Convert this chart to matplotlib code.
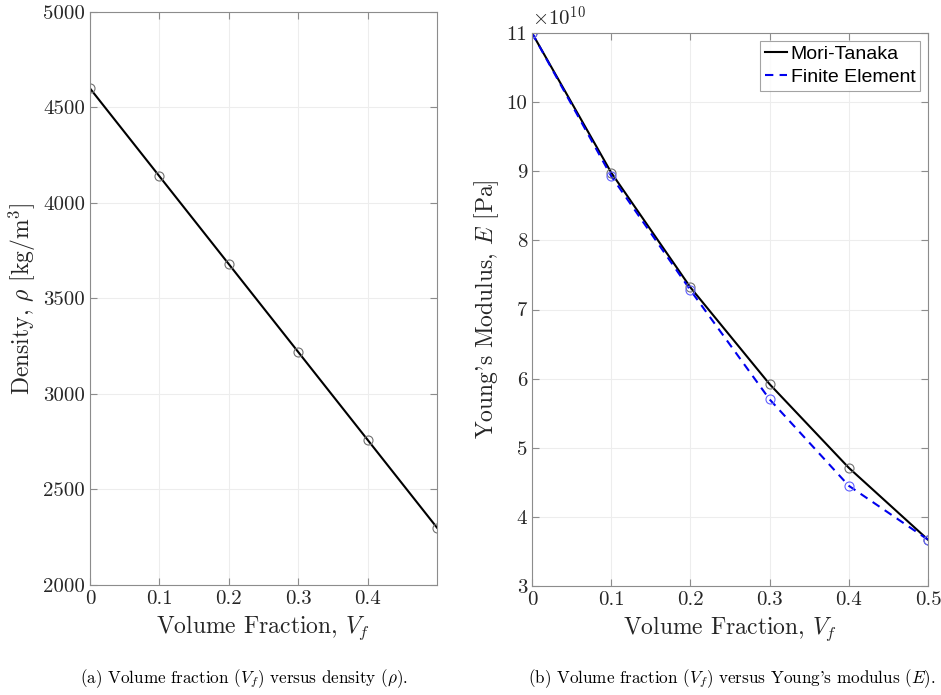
import numpy as np
import matplotlib
matplotlib.use("Agg")
import matplotlib.pyplot as plt

plt.rcParams["font.family"] = "serif"
plt.rcParams["font.serif"] = ["cmr10"]
plt.rcParams["mathtext.fontset"] = "cm"
plt.rcParams["axes.formatter.use_mathtext"] = True

# volume fraction sample points
vf = [0.0, 0.1, 0.2, 0.3, 0.4, 0.5]
# density [kg/m^3]
density = [4600, 4140, 3680, 3220, 2760, 2300]
# Young's modulus [Pa]
E_mori_tanaka = [11.0e10, 8.98e10, 7.32e10, 5.92e10, 4.71e10, 3.67e10]
E_finite_elem = [11.0e10, 8.93e10, 7.28e10, 5.70e10, 4.45e10, 3.67e10]

left_xticks = [0, 0.1, 0.2, 0.3, 0.4]
right_xticks = [0, 0.1, 0.2, 0.3, 0.4, 0.5]
density_ticks = [2000, 2500, 3000, 3500, 4000, 4500, 5000]
E_ticks = [3, 4, 5, 6, 7, 8, 9, 10, 11]

SPINE = "#8c8c8c"
GRID = "#ededed"


def style_axes(ax):
    for s in ax.spines.values():
        s.set_color(SPINE)
        s.set_linewidth(0.8)
    ax.tick_params(direction="in", top=True, right=True, colors=SPINE,
                   labelcolor="#262626", labelsize=15, length=5, width=0.8)
    ax.grid(True, color=GRID, linewidth=0.8)
    ax.set_axisbelow(True)


fig = plt.figure(figsize=(9.41, 6.95), dpi=100)

# (a) density
ax1 = fig.add_axes([0.0956, 0.1583, 0.3688, 0.8245])
ax1.plot(vf, density, color="black", linewidth=1.5)
ax1.plot(vf, density, linestyle="none", marker="o", markersize=6.5,
         markerfacecolor="none", markeredgecolor="#707070", markeredgewidth=0.8)
ax1.set_xlim(0, 0.5)
ax1.set_ylim(2000, 5000)
ax1.set_xticks(left_xticks)
ax1.set_xticklabels(["0", "0.1", "0.2", "0.3", "0.4"])
ax1.set_yticks(density_ticks)
ax1.set_yticklabels([str(t) for t in density_ticks])
ax1.set_xlabel("Volume Fraction, $V_f$", fontsize=17, color="#262626")
ax1.set_ylabel(r"Density, $\rho$ [kg/m$^3$]", fontsize=17, color="#262626")
style_axes(ax1)

# (b) Young's modulus
E_mt = np.array(E_mori_tanaka) / 1e10
E_fe = np.array(E_finite_elem) / 1e10
ax2 = fig.add_axes([0.5654, 0.1568, 0.4208, 0.7957])
ax2.plot(vf, E_mt, color="black", linewidth=1.5, label="Mori-Tanaka")
ax2.plot(vf, E_fe, color="#0000ee", linewidth=1.5, linestyle=(0, (4, 3)),
         label="Finite Element")
ax2.plot(vf, E_mt, linestyle="none", marker="o", markersize=6.5,
         markerfacecolor="none", markeredgecolor="#707070", markeredgewidth=0.8)
ax2.plot(vf, E_fe, linestyle="none", marker="o", markersize=6.5,
         markerfacecolor="none", markeredgecolor="#6060ff", markeredgewidth=0.8)
ax2.set_xlim(0, 0.5)
ax2.set_ylim(3, 11)
ax2.set_xticks(right_xticks)
ax2.set_xticklabels(["0", "0.1", "0.2", "0.3", "0.4", "0.5"])
ax2.set_yticks(E_ticks)
ax2.set_yticklabels([str(t) for t in E_ticks])
ax2.set_xlabel("Volume Fraction, $V_f$", fontsize=17, color="#262626")
ax2.set_ylabel("Young's Modulus, $E$ [Pa]", fontsize=17, color="#262626")
ax2.text(0.0, 1.005, r"$\times10^{10}$", transform=ax2.transAxes,
         fontsize=15, color="#262626", ha="left", va="bottom")
style_axes(ax2)
leg = ax2.legend(loc="upper right", prop={"family": "Liberation Sans", "size": 14},
                 frameon=True, fancybox=False, handlelength=1.1,
                 borderpad=0.25, labelspacing=0.25, handletextpad=0.2,
                 borderaxespad=0.4)
leg.get_frame().set_edgecolor("#8c8c8c")
leg.get_frame().set_linewidth(0.8)

fig.text(0.259, 0.023, r"(a) Volume fraction ($V_f$) versus density ($\rho$).",
         fontsize=12.3, ha="center", va="center")
fig.text(0.778, 0.023, r"(b) Volume fraction ($V_f$) versus Young's modulus ($E$).",
         fontsize=12.3, ha="center", va="center")

fig.savefig("out.png", dpi=100)
